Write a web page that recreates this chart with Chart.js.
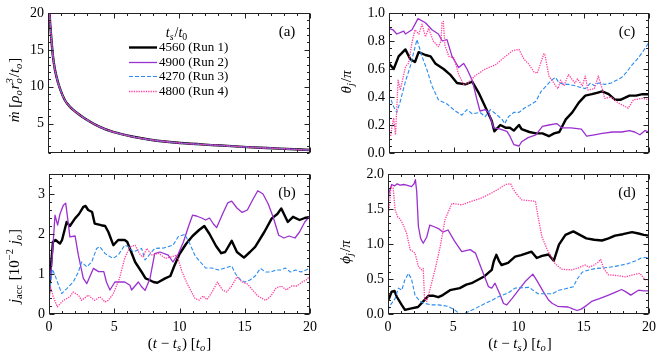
<!DOCTYPE html>
<html><head><meta charset="utf-8">
<script src="https://cdn.jsdelivr.net/npm/chart.js@4/dist/chart.umd.min.js"></script>
<style>
html,body{margin:0;padding:0;background:#fff;}
#wrap{position:relative;width:664px;height:361px;overflow:hidden;background:#fff;}
canvas{position:absolute;}
</style></head><body>
<div id="wrap">
<canvas id="ca" width="332" height="170" style="left:0;top:0;width:332px;height:170px"></canvas>
<canvas id="cc" width="332" height="170" style="left:332px;top:0;width:332px;height:170px"></canvas>
<canvas id="cb" width="332" height="211" style="left:0;top:150px;width:332px;height:211px"></canvas>
<canvas id="cd" width="332" height="211" style="left:332px;top:150px;width:332px;height:211px"></canvas>
</div>
<script>
// ---------- data (t, value) ----------
const RUN_LABELS = ['4560 (Run 1)','4900 (Run 2)','4270 (Run 3)','4800 (Run 4)'];
const X_TICKS = [0,5,10,15,20];
const A_YTICKS = [5,10,15,20];
const B_YTICKS = [0,1,2,3];
const C_YTICKS = [0,0.2,0.4,0.6,0.8,1.0];
const D_YTICKS = [0,0.5,1.0,1.5,2.0];

// (a) accretion rate (all four runs overlap)
const A_MDOT = [[0.05,30],[0.13,20],[0.2,17.8],[0.26,16.4],[0.38,14.1],[0.5,12.6],[0.64,11.4],[0.9,9.8],[1.28,8.2],[1.66,7.3],[2.17,6.5],[2.93,5.55],[3.95,4.55],[4.97,3.86],[6.5,3.2],[7.8,2.8],[10.1,2.35],[12.9,2.05],[15.2,1.8],[17.7,1.6],[20,1.4]];

// (b) j_acc
const B_RUN1 = [[0,0.5],[0.15,1.2],[0.3,1.8],[0.5,1.85],[0.84,1.76],[1.0,1.85],[1.35,2.3],[1.6,2.2],[2.0,2.39],[2.3,2.5],[2.63,2.68],[2.8,2.7],[3.0,2.6],[3.3,2.55],[3.5,2.26],[4.0,2.22],[4.3,2.2],[4.55,2.05],[4.93,1.72],[5.3,1.85],[5.8,1.85],[6.0,1.8],[6.3,1.55],[6.6,1.3],[7.1,1.05],[7.4,0.89],[7.7,0.85],[8.0,0.8],[8.3,0.78],[8.9,0.89],[9.3,0.95],[9.6,1.2],[10.0,1.5],[10.5,1.75],[11.0,1.95],[11.5,2.1],[11.9,2.2],[12.3,2.0],[12.8,1.7],[13.2,1.52],[13.5,1.55],[14.0,1.83],[14.4,1.55],[14.94,1.41],[15.4,1.55],[15.8,1.68],[16.5,2.05],[17.07,2.39],[17.5,2.5],[17.8,2.64],[18.3,2.3],[18.7,2.43],[19.2,2.35],[19.6,2.4],[20,2.43]];
const B_RUN2 = [[0,0.7],[0.2,1.2],[0.46,2.47],[0.66,2.22],[0.84,2.5],[1.1,2.72],[1.28,2.77],[1.43,2.39],[1.6,1.93],[2.0,1.95],[2.25,1.47],[2.63,0.89],[2.9,0.76],[3.4,1.14],[3.8,1.06],[4.2,1.06],[4.4,0.8],[4.67,0.6],[5.05,0.8],[5.8,0.8],[6.2,0.72],[6.33,0.6],[6.85,0.8],[7.1,0.68],[7.36,0.59],[7.74,0.89],[8.1,1.51],[8.5,1.55],[9.14,1.47],[9.5,1.3],[9.9,1.5],[10.3,1.8],[10.7,2.2],[11.0,2.47],[11.3,2.45],[11.7,2.4],[12.0,2.35],[12.3,2.4],[12.6,2.25],[12.85,2.16],[13.3,2.5],[13.7,2.78],[14.0,2.82],[14.4,2.65],[14.8,2.54],[15.2,2.6],[15.6,2.85],[16.0,3.08],[16.4,3.0],[16.8,2.75],[17.2,2.4],[17.6,1.97],[18.0,1.9],[18.4,1.95],[18.85,1.9],[19.2,2.05],[19.6,2.3],[20,2.45]];
const B_RUN3 = [[0,0.25],[0.1,0.7],[0.25,1.12],[0.46,0.97],[0.7,0.75],[0.97,0.51],[1.35,0.63],[1.86,0.8],[2.25,1.05],[2.5,1.3],[2.9,1.18],[3.27,1.3],[3.65,1.64],[3.9,1.68],[4.3,1.51],[4.9,1.39],[5.3,1.47],[5.8,1.72],[6.1,1.68],[6.46,1.55],[7.1,1.64],[7.36,1.35],[7.74,1.5],[8.1,1.64],[8.8,1.65],[9.1,1.68],[9.5,1.72],[9.9,1.93],[10.4,1.99],[10.8,1.75],[11.2,1.45],[11.6,1.3],[12.0,1.15],[12.5,1.15],[13.0,1.1],[13.5,1.15],[14.0,1.2],[14.3,1.0],[14.7,0.85],[15.0,0.8],[15.4,0.85],[15.8,0.95],[16.2,1.14],[16.6,1.05],[17.0,1.05],[17.4,1.1],[17.8,1.1],[18.1,1.15],[18.5,1.05],[18.9,1.1],[19.3,1.05],[19.7,1.1],[20,1.15]];
const B_RUN4 = [[0,0.7],[0.08,0.72],[0.33,0.43],[0.64,0.18],[1.1,0.34],[1.6,0.43],[1.86,0.55],[2.25,0.47],[2.5,0.34],[3.0,0.47],[3.5,0.34],[3.9,0.43],[4.3,0.3],[4.55,0.34],[4.93,0.51],[5.4,0.89],[5.8,1.39],[6.2,1.68],[6.6,1.72],[7.0,1.47],[7.2,1.43],[7.5,1.64],[7.9,1.47],[8.4,1.52],[8.9,1.39],[9.4,1.43],[9.8,1.47],[10.2,1.05],[10.6,0.75],[11.2,0.38],[11.5,0.35],[11.8,0.45],[12.1,0.36],[12.5,0.55],[12.9,0.8],[13.3,0.6],[13.6,0.55],[14.0,0.7],[14.4,0.93],[14.8,0.8],[15.2,0.75],[15.6,0.6],[16.0,0.45],[16.6,0.34],[17.0,0.45],[17.4,0.65],[17.8,0.7],[18.2,0.6],[18.6,0.7],[19.0,0.7],[19.4,0.8],[19.7,0.85],[20,0.95]];

// (c) theta_j / pi
const C_RUN1 = [[0,0.64],[0.36,0.6],[0.74,0.69],[1.26,0.74],[1.64,0.67],[2.0,0.65],[2.28,0.72],[2.8,0.7],[3.2,0.69],[3.56,0.64],[4.2,0.6],[4.7,0.56],[5.23,0.5],[5.87,0.49],[6.4,0.51],[6.9,0.43],[7.4,0.33],[7.9,0.23],[8.1,0.155],[8.56,0.2],[9.0,0.18],[9.3,0.18],[9.6,0.16],[10.0,0.2],[10.2,0.17],[10.8,0.15],[11.3,0.14],[11.8,0.14],[12.3,0.12],[12.7,0.14],[13.1,0.15],[13.6,0.24],[14.1,0.29],[14.6,0.36],[15.1,0.41],[15.6,0.42],[16.0,0.43],[16.4,0.44],[16.9,0.42],[17.4,0.38],[17.8,0.38],[18.5,0.41],[19.0,0.41],[19.5,0.42],[20,0.42]];
const C_RUN2 = [[0,0.89],[0.3,0.88],[0.6,0.85],[1.13,0.87],[1.26,0.85],[1.77,0.88],[2.23,0.96],[2.8,0.93],[3.3,0.88],[3.8,0.85],[4.1,0.8],[4.46,0.81],[4.85,0.69],[5.36,0.61],[5.74,0.64],[6.0,0.6],[6.4,0.52],[6.77,0.38],[7.0,0.3],[7.4,0.31],[7.67,0.29],[8.05,0.18],[8.56,0.17],[9.07,0.155],[9.3,0.12],[9.6,0.06],[10.0,0.05],[10.2,0.08],[10.7,0.11],[11.3,0.13],[11.8,0.19],[12.3,0.2],[12.9,0.21],[13.3,0.18],[14.0,0.18],[14.8,0.17],[15.2,0.12],[15.8,0.13],[16.4,0.14],[17.2,0.15],[17.9,0.15],[18.5,0.16],[18.9,0.15],[19.3,0.13],[19.7,0.16],[20,0.15]];
const C_RUN3 = [[0,0.42],[0.36,0.33],[0.6,0.29],[0.87,0.37],[1.26,0.51],[1.64,0.62],[1.9,0.72],[2.15,0.81],[2.54,0.69],[2.9,0.6],[3.3,0.48],[3.8,0.38],[4.46,0.35],[5.1,0.3],[5.6,0.27],[6.0,0.31],[6.4,0.28],[7.0,0.29],[7.4,0.26],[7.8,0.31],[8.2,0.28],[8.7,0.24],[8.9,0.21],[9.2,0.26],[9.6,0.29],[10.0,0.29],[10.4,0.32],[10.8,0.34],[11.3,0.37],[11.7,0.44],[12.1,0.48],[12.5,0.52],[12.8,0.54],[13.1,0.5],[13.5,0.49],[13.8,0.49],[14.3,0.48],[14.7,0.47],[15.1,0.46],[15.5,0.5],[15.8,0.48],[16.1,0.5],[16.6,0.49],[17.1,0.5],[17.5,0.52],[17.9,0.54],[18.3,0.58],[18.7,0.63],[19.1,0.67],[19.5,0.72],[20,0.79]];
const C_RUN4 = [[0,0.11],[0.13,0.12],[0.23,0.19],[0.36,0.25],[0.5,0.13],[0.7,0.52],[0.87,0.45],[1.13,0.56],[1.28,0.62],[1.5,0.64],[1.77,0.79],[2.0,0.88],[2.3,0.85],[2.54,0.92],[2.8,0.83],[3.05,0.89],[3.4,0.8],[3.8,0.76],[4.0,0.8],[4.08,0.93],[4.18,0.94],[4.3,0.77],[4.6,0.69],[5.0,0.68],[5.36,0.56],[5.74,0.49],[6.1,0.5],[6.6,0.55],[7.4,0.6],[8.2,0.63],[8.95,0.69],[9.5,0.73],[10.0,0.74],[10.38,0.67],[10.7,0.64],[11.15,0.58],[11.4,0.57],[11.92,0.71],[12.0,0.7],[12.3,0.55],[12.82,0.48],[13.0,0.46],[13.2,0.52],[13.46,0.48],[13.8,0.56],[14.3,0.5],[14.5,0.53],[14.87,0.48],[15.1,0.55],[15.3,0.45],[15.8,0.46],[16.1,0.55],[16.4,0.46],[16.6,0.39],[17.1,0.4],[17.6,0.36],[18.2,0.33],[18.4,0.32],[18.8,0.38],[19.5,0.39],[20,0.38]];

// (d) phi_j / pi
const D_RUN1 = [[0,0.2],[0.08,0.22],[0.28,0.32],[0.5,0.33],[0.66,0.25],[1.05,0.13],[1.3,0.06],[1.8,0.08],[2.3,0.1],[2.7,0.18],[3.1,0.26],[3.5,0.26],[3.86,0.24],[4.2,0.27],[4.75,0.34],[5.5,0.37],[6.0,0.42],[6.4,0.44],[6.9,0.49],[7.4,0.54],[7.95,0.63],[8.1,0.75],[8.3,0.845],[8.5,0.76],[8.7,0.7],[9.2,0.73],[9.74,0.82],[10.2,0.84],[11.0,0.89],[11.4,0.8],[11.8,0.83],[12.3,0.85],[12.7,0.76],[13.1,0.99],[13.6,1.13],[14.2,1.18],[14.7,1.13],[15.2,1.08],[15.8,1.06],[16.4,1.05],[16.9,1.08],[17.4,1.12],[18.0,1.14],[18.7,1.17],[19.2,1.15],[19.6,1.13],[20,1.12]];
const D_RUN2 = [[0,1.6],[0.08,1.73],[0.28,1.85],[0.5,1.83],[0.7,1.86],[0.92,1.84],[1.2,1.85],[1.43,1.84],[1.8,1.82],[2.0,1.86],[2.1,1.92],[2.2,1.75],[2.33,1.25],[2.5,1.08],[2.7,1.01],[2.97,1.1],[3.2,1.27],[3.5,1.25],[3.86,1.22],[4.2,1.17],[4.6,1.2],[5.1,1.04],[5.65,0.89],[6.3,0.92],[6.7,0.87],[7.2,0.63],[7.7,0.39],[7.95,0.37],[8.2,0.44],[8.6,0.27],[8.85,0.15],[9.1,0.13],[9.5,0.22],[10.0,0.34],[10.5,0.46],[11.1,0.57],[11.4,0.48],[11.9,0.32],[12.3,0.2],[12.6,0.15],[13.0,0.11],[13.8,0.1],[14.2,0.07],[14.5,0.05],[14.8,0.07],[15.2,0.12],[15.6,0.18],[16.2,0.22],[16.9,0.27],[17.4,0.31],[17.9,0.35],[18.2,0.32],[18.6,0.27],[19.2,0.34],[19.6,0.33],[20,0.33]];
const D_RUN3 = [[0,2.0],[0.02,0.04],[0.08,0.1],[0.54,0.22],[0.8,0.37],[1.05,0.34],[1.3,0.49],[1.56,0.58],[1.8,0.5],[2.07,0.27],[2.45,0.18],[2.84,0.15],[3.35,0.13],[3.86,0.13],[4.6,0.11],[5.1,0.06],[5.5,0.0],[5.9,0.01],[6.7,0.08],[7.44,0.15],[8.0,0.2],[8.5,0.25],[9.2,0.3],[9.74,0.37],[10.8,0.38],[11.5,0.29],[12.6,0.29],[13.1,0.34],[13.6,0.36],[14.2,0.39],[14.5,0.5],[14.9,0.6],[15.4,0.63],[15.9,0.65],[16.6,0.66],[17.4,0.68],[18.4,0.72],[19.0,0.76],[19.4,0.8],[20,0.81]];
const D_RUN4 = [[0,1.45],[0.08,1.47],[0.23,1.82],[0.4,1.8],[0.54,1.49],[0.74,1.39],[0.92,1.36],[1.18,1.27],[1.43,1.15],[1.7,0.92],[2.07,0.87],[2.33,0.68],[2.58,0.63],[2.7,0.65],[2.8,0.22],[2.97,0.18],[3.2,0.34],[3.6,0.63],[4.0,0.96],[4.37,1.35],[4.9,1.58],[5.65,1.56],[6.4,1.61],[7.2,1.66],[7.95,1.73],[8.6,1.8],[9.0,1.85],[9.4,1.86],[9.6,1.78],[10.0,1.68],[10.25,1.63],[11.3,1.61],[11.5,1.39],[11.8,1.1],[12.2,0.92],[12.8,0.72],[13.3,0.64],[14.1,0.63],[14.6,0.66],[15.1,0.7],[15.4,0.67],[15.8,0.7],[16.1,0.74],[16.3,0.78],[16.5,0.66],[16.9,0.56],[17.5,0.55],[18.2,0.53],[18.8,0.56],[19.3,0.58],[19.7,0.49],[20,0.49]];

// ---------- styles ----------
const STY = [
  {color:'#000000', width:2.4, dash:[]},
  {color:'#9b30d0', width:1.3, dash:[]},
  {color:'#2a8cf0', width:1.1, dash:[4,2]},
  {color:'#ff40a0', width:1.3, dash:[1.3,1.1]}
];
const FAM = "'Liberation Serif', 'DejaVu Serif', serif";
const TICKFONT = {family: FAM, size: 14};

// rich text segments for math labels
const T_A = [{t:'ṁ',i:1},{t:' ['},{t:'ρ',i:1},{sub:'o',i:1},{t:'r',i:1},{sub:'o',sup:'3',i:1},{t:'/'},{t:'t',i:1},{sub:'o',i:1},{t:']'}];
const T_B = [{t:'j',i:1},{sub:'acc'},{t:' [10'},{sup:'−2'},{t:' '},{t:'j',i:1},{sub:'o',i:1},{t:']'}];
const T_C = [{t:'θ',i:1},{sub:'j',i:1},{t:'/'},{t:'π',i:1}];
const T_D = [{t:'ϕ',i:1},{sub:'j',i:1},{t:'/'},{t:'π',i:1}];
const T_X = [{t:'('},{t:'t',i:1},{t:' − '},{t:'t',i:1},{sub:'s',i:1},{t:') ['},{t:'t',i:1},{sub:'o',i:1},{t:']'}];
const T_LEG = [{t:'t',i:1},{sub:'s',i:1},{t:'/'},{t:'t',i:1},{sub:'0'}];

function fnt(size, it){ return (it ? 'italic ' : '') + size + 'px ' + FAM; }
function richWidth(ctx, segs, size){
  let w = 0;
  for (const s of segs){
    if (s.t !== undefined){ ctx.font = fnt(size, s.i); w += ctx.measureText(s.t).width; }
    else {
      ctx.font = fnt(size*0.7, s.i);
      const a = s.sub ? ctx.measureText(s.sub).width : 0;
      const b = s.sup ? ctx.measureText(s.sup).width : 0;
      w += Math.max(a,b) + 1;
    }
  }
  return w;
}
function drawRich(ctx, segs, cx, cy, size, rot){
  ctx.save();
  ctx.translate(cx, cy);
  if (rot) ctx.rotate(-Math.PI/2);
  ctx.fillStyle = '#000';
  ctx.textBaseline = 'alphabetic';
  ctx.textAlign = 'left';
  const W = richWidth(ctx, segs, size);
  let x = -W/2; const y = size*0.33;
  for (const s of segs){
    if (s.t !== undefined){ ctx.font = fnt(size, s.i); ctx.fillText(s.t, x, y); x += ctx.measureText(s.t).width; }
    else {
      ctx.font = fnt(size*0.7, s.i);
      let a = 0, b = 0;
      if (s.sub){ ctx.fillText(s.sub, x, y + size*0.22); a = ctx.measureText(s.sub).width; }
      if (s.sup){ ctx.fillText(s.sup, x, y - size*0.4); b = ctx.measureText(s.sup).width; }
      x += Math.max(a,b) + 1;
    }
  }
  ctx.restore();
}

function decor(P){
  return {
    id: 'decor_' + P.id,
    afterDraw(chart){
      const ctx = chart.ctx, a = chart.chartArea, xs = chart.scales.x, ys = chart.scales.y;
      ctx.save();
      ctx.strokeStyle = '#222'; ctx.lineWidth = 1;
      const L = Math.round(a.left)+0.5, R = Math.round(a.right)-0.5, T = Math.round(a.top)+0.5, B = Math.round(a.bottom)-0.5;
      ctx.strokeRect(L, T, R-L, B-T);
      ctx.beginPath();
      const major = 5, minor = 2.5;
      for (let k = 0; k <= 20; k++){
        const px = Math.round(xs.getPixelForValue(k)) + 0.5;
        const len = X_TICKS.includes(k) ? major : minor;
        ctx.moveTo(px, B); ctx.lineTo(px, B - len);
        ctx.moveTo(px, T); ctx.lineTo(px, T + len);
      }
      const n = Math.round((P.ymax - P.ymin0) / P.yMinor);
      for (let k = 0; k <= n; k++){
        const v = P.ymin0 + k * P.yMinor;
        if (v < P.ymin - 1e-9 || v > P.ymax + 1e-9) continue;
        const py = Math.round(ys.getPixelForValue(v)) + 0.5;
        const isMaj = P.yTicks.some(m => Math.abs(m - v) < 1e-6);
        const len = isMaj ? major : minor;
        ctx.moveTo(L, py); ctx.lineTo(L + len, py);
        ctx.moveTo(R, py); ctx.lineTo(R - len, py);
      }
      ctx.stroke();
      ctx.restore();
      drawRich(ctx, P.yTitle, P.yTitlePos[0], P.yTitlePos[1], 15, true);
      if (P.xTitlePos) drawRich(ctx, T_X, P.xTitlePos[0], P.xTitlePos[1], 15, false);
      ctx.save();
      ctx.fillStyle = '#000'; ctx.font = fnt(15, false); ctx.textAlign = 'center'; ctx.textBaseline = 'middle';
      ctx.fillText(P.label, P.labelPos[0], P.labelPos[1]);
      ctx.restore();
      if (P.legend){
        drawRich(ctx, T_LEG, 177, 32, 14, false);
        ctx.save();
        for (let i = 0; i < 4; i++){
          const y = [47, 62, 76, 91][i] + 0.5;
          ctx.strokeStyle = STY[i].color; ctx.lineWidth = STY[i].width; ctx.setLineDash(STY[i].dash);
          ctx.beginPath(); ctx.moveTo(129, y); ctx.lineTo(157, y); ctx.stroke();
          ctx.setLineDash([]);
          ctx.fillStyle = '#000'; ctx.font = fnt(13, false); ctx.textAlign = 'left'; ctx.textBaseline = 'middle';
          ctx.fillText(RUN_LABELS[i], 159, y);
        }
        ctx.restore();
      }
    }
  };
}

function makeChart(P){
  const cv = document.getElementById(P.id);
  const datasets = P.series.map((s, i) => ({
    label: RUN_LABELS[i],
    data: s.map(p => ({x: p[0], y: p[1]})),
    borderColor: STY[i].color, backgroundColor: STY[i].color,
    borderWidth: STY[i].width, borderDash: STY[i].dash,
    pointRadius: 0, fill: false, tension: 0,
    cubicInterpolationMode: P.smooth ? 'monotone' : 'default',
    order: 4 - i, borderJoinStyle: 'round'
  }));
  const zeroPad = s => { s.paddingLeft = 0; s.paddingRight = 0; s.paddingTop = 0; s.paddingBottom = 0; };
  new Chart(cv, {
    type: 'line',
    data: {datasets},
    options: {
      responsive: false, animation: false, devicePixelRatio: 1,
      layout: {padding: P.pad},
      plugins: {legend: {display: false}, tooltip: {enabled: false}, title: {display: false}},
      scales: {
        x: {
          type: 'linear', min: 0, max: 20,
          afterBuildTicks: s => { s.ticks = X_TICKS.map(v => ({value: v})); },
          ticks: {display: P.showX, font: TICKFONT, color: '#000', padding: 5, maxRotation: 0, autoSkip: false, callback: v => String(v)},
          grid: {display: false, drawTicks: false}, border: {display: false},
          afterFit: s => { s.height = P.xH; zeroPad(s); }
        },
        y: {
          type: 'linear', min: P.ymin, max: P.ymax,
          afterBuildTicks: s => { s.ticks = P.yTicks.map(v => ({value: v})); },
          ticks: {font: TICKFONT, color: '#000', padding: 4, autoSkip: false, callback: v => Number(v).toFixed(P.yDec)},
          grid: {display: false, drawTicks: false}, border: {display: false},
          afterFit: s => { s.width = P.yW; zeroPad(s); }
        }
      }
    },
    plugins: [decor(P)]
  });
}

const PANELS = [
  {id:'ca', pad:{left:0,top:13,right:22,bottom:17}, yW:48, xH:0, showX:false, ymin:1, ymin0:1, ymax:20, yTicks:A_YTICKS, yMinor:1, yDec:0,
   series:[A_MDOT,A_MDOT,A_MDOT,A_MDOT], smooth:true, yTitle:T_A, yTitlePos:[14,90], label:'(a)', labelPos:[287,32], legend:true},
  {id:'cc', pad:{left:0,top:13,right:15,bottom:17}, yW:57, xH:0, showX:false, ymin:0, ymin0:0, ymax:1, yTicks:C_YTICKS, yMinor:0.05, yDec:1,
   series:[C_RUN1,C_RUN2,C_RUN3,C_RUN4], yTitle:T_C, yTitlePos:[14,82], label:'(c)', labelPos:[295,32]},
  {id:'cb', pad:{left:0,top:24,right:22,bottom:0}, yW:49, xH:47, showX:true, ymin:0, ymin0:0, ymax:3.5, yTicks:B_YTICKS, yMinor:0.2, yDec:0,
   series:[B_RUN1,B_RUN2,B_RUN3,B_RUN4], yTitle:T_B, yTitlePos:[14,116], label:'(b)', labelPos:[287,43], xTitlePos:[179.5,193]},
  {id:'cd', pad:{left:0,top:24,right:15,bottom:0}, yW:56, xH:47, showX:true, ymin:0, ymin0:0, ymax:2, yTicks:D_YTICKS, yMinor:0.1, yDec:1,
   series:[D_RUN1,D_RUN2,D_RUN3,D_RUN4], yTitle:T_D, yTitlePos:[13,102], label:'(d)', labelPos:[295,43], xTitlePos:[188,193]}
];
PANELS.forEach(makeChart);
</script>
</body></html>
